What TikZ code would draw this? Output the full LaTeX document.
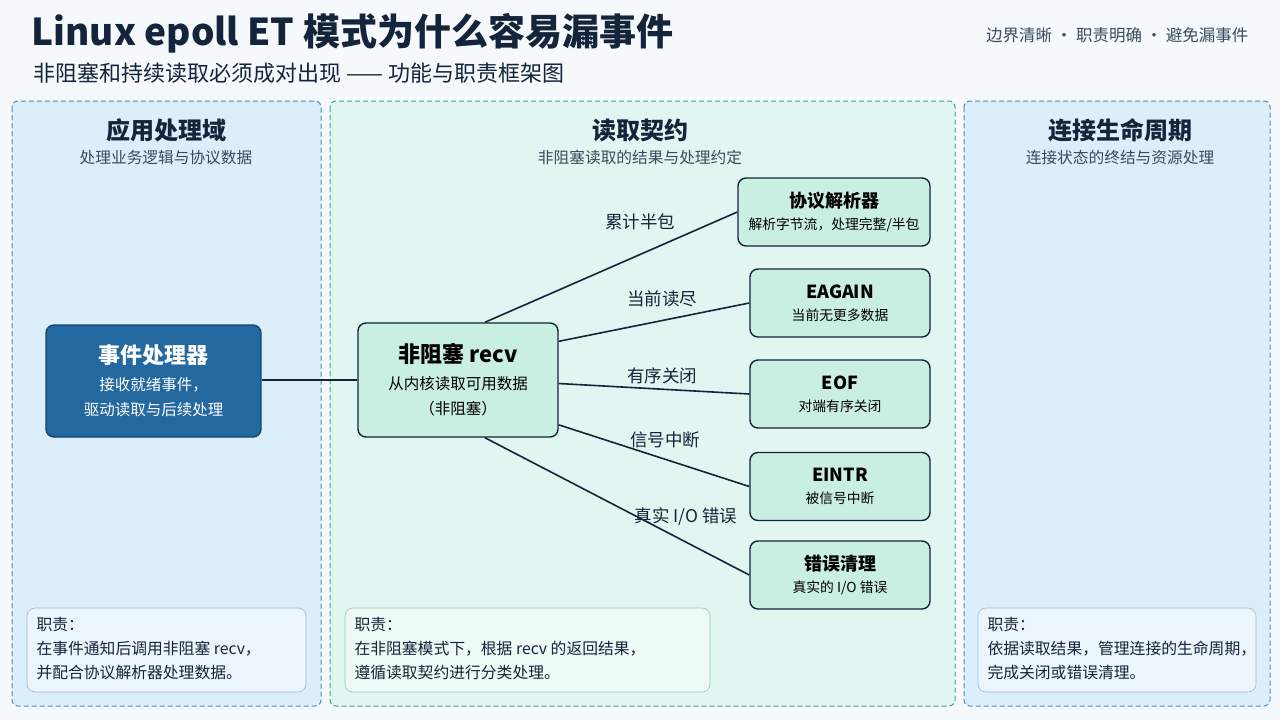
\documentclass[tikz,border=0pt]{standalone}
\usepackage{fontspec}
\setmainfont{Noto Sans CJK SC}
\usetikzlibrary{positioning}
\definecolor{pageBg}{HTML}{F6F9FC}
\definecolor{inkDark}{HTML}{14243A}
\definecolor{inkSoft}{HTML}{3A4A5E}
\definecolor{appFill}{HTML}{DDEEFB}
\definecolor{appLine}{HTML}{4A8CC4}
\definecolor{midFill}{HTML}{E1F6F0}
\definecolor{midLine}{HTML}{3FA68A}
\definecolor{boxFill}{HTML}{C9EEE2}
\definecolor{evFill}{HTML}{2468A0}
\definecolor{evLine}{HTML}{17466E}
\newcommand{\bigT}{\fontsize{22}{30}\bfseries\selectfont}
\newcommand{\midT}{\fontsize{18}{24}\bfseries\selectfont}
\newcommand{\smallD}{\fontsize{15.5}{25}\mdseries\selectfont}
\newcommand{\tinyD}{\fontsize{13.8}{20}\mdseries\selectfont}
\newcommand{\noteD}{\fontsize{15.8}{24}\mdseries\selectfont}
\tikzset{
  panel/.style={draw=#1, dash pattern=on 5pt off 3pt, line width=1pt, rounded corners=6pt},
  note/.style={draw=#1, fill=white, fill opacity=0.45, line width=0.6pt, rounded corners=8pt},
  res/.style={draw=inkDark, fill=boxFill, line width=1.4pt, rounded corners=8pt, minimum width=180pt, minimum height=68pt, align=center, font=\tinyD},
  link/.style={draw=inkDark, line width=1.6pt},
  lbl/.style={font=\fontsize{17.5}{20}\selectfont, text=inkDark},
  duty/.style={anchor=north west, align=left, text=inkDark, font=\noteD},
}
\begin{document}
\begin{tikzpicture}[x=1pt,y=-1pt]
\useasboundingbox[fill=pageBg] (0,0) rectangle (1280,720);

% title
\node[anchor=west, font=\fontsize{37}{42}\bfseries\selectfont, text=inkDark] (title) at (28,33) {Linux epoll ET 模式为什么容易漏事件};
\node[anchor=west, font=\fontsize{22}{26}\selectfont, text=inkDark] (subtitle) at (30,73) {非阻塞和持续读取必须成对出现 —— 功能与职责框架图};
\node[anchor=east, font=\fontsize{16.5}{20}\selectfont, text=inkSoft] (tagline) at (1252,35) {边界清晰 · 职责明确 · 避免漏事件};

% panels
\draw[panel=appLine, fill=appFill] (12,101) rectangle (321,706);
\draw[panel=midLine, fill=midFill] (330,101) rectangle (955,706);
\draw[panel=appLine, fill=appFill] (964,101) rectangle (1270,706);

\node[font=\fontsize{24}{28}\bfseries\selectfont, text=inkDark] (appT) at (166,130) {应用处理域};
\node[font=\fontsize{15.7}{19}\selectfont, text=inkSoft] (appS) at (166,158) {处理业务逻辑与协议数据};
\node[font=\fontsize{24}{28}\bfseries\selectfont, text=inkDark] (midT) at (640,130) {读取契约};
\node[font=\fontsize{15.7}{19}\selectfont, text=inkSoft] (midS) at (640,158) {非阻塞读取的结果与处理约定};
\node[font=\fontsize{24}{28}\bfseries\selectfont, text=inkDark] (lifeT) at (1120,130) {连接生命周期};
\node[font=\fontsize{15.7}{19}\selectfont, text=inkSoft] (lifeS) at (1120,158) {连接状态的终结与资源处理};

% main nodes
\node[draw=evLine, fill=evFill, line width=1.4pt, rounded corners=8pt, minimum width=215pt, minimum height=112pt, align=center, text=white, font=\smallD] (handler) at (153.5,381)
  {\bigT 事件处理器\\[2pt] 接收就绪事件，\\ 驱动读取与后续处理};
\node[res, font=\smallD, minimum width=200pt, minimum height=114pt] (recv) at (458,380)
  {\bigT 非阻塞 recv\\[2pt] 从内核读取可用数据\\ （非阻塞）};

\node[res, minimum width=192pt] (parser) at (834,212) {\midT 协议解析器\\[2pt] 解析字节流，处理完整/半包};
\node[res] (eagain) at (840,303) {\midT EAGAIN\\[2pt] 当前无更多数据};
\node[res] (eof) at (840,394) {\midT EOF\\[2pt] 对端有序关闭};
\node[res] (eintr) at (840,486.5) {\midT EINTR\\[2pt] 被信号中断};
\node[res] (cleanup) at (840,575) {\midT 错误清理\\[2pt] 真实的 I/O 错误};

% links
\draw[link] (handler.east |- recv.west) -- (recv.west);
\draw[link] (recv.65) -- (parser.west);
\draw[link] (recv.21) -- (eagain.west);
\draw[link] (recv.-2) -- (eof.west);
\draw[link] (recv.-24) -- (eintr.west);
\draw[link] (recv.-65) -- (cleanup.west);

\node[lbl] (halfL) at (640,222) {累计半包};
\node[lbl] (drainL) at (662,299) {当前读尽};
\node[lbl] (closeL) at (662,376) {有序关闭};
\node[lbl] (sigL) at (665,440) {信号中断};
\node[lbl] (ioL) at (686,517) {真实 I/O 错误};

% duty notes
\draw[note=appLine!60] (27,608) rectangle (306,692);
\draw[note=midLine!60] (345,608) rectangle (710,692);
\draw[note=appLine!60] (978,608) rectangle (1256,692);
\node[duty] (appN) at (33,614) {职责：\\ 在事件通知后调用非阻塞 recv，\\ 并配合协议解析器处理数据。};
\node[duty] (midN) at (351,614) {职责：\\ 在非阻塞模式下，根据 recv 的返回结果，\\ 遵循读取契约进行分类处理。};
\node[duty] (lifeN) at (984,614) {职责：\\ 依据读取结果，管理连接的生命周期，\\ 完成关闭或错误清理。};
\end{tikzpicture}
\end{document}
